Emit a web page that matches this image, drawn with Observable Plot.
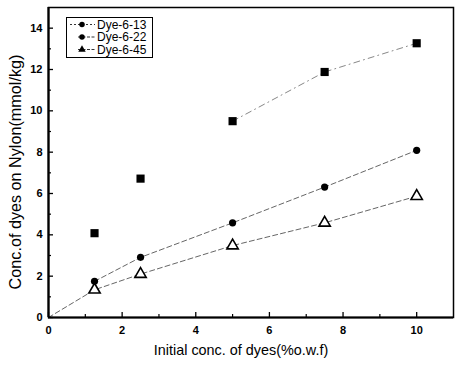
<!DOCTYPE html>
<html><head><meta charset="utf-8">
<script src="https://cdn.jsdelivr.net/npm/d3@7"></script>
<script src="https://cdn.jsdelivr.net/npm/@observablehq/plot@0.6"></script>
<style>
body{margin:0;background:#fff}
#wrap{position:relative;width:455px;height:367px;font-family:"Liberation Sans",Arial,sans-serif}
#legend{position:absolute;left:66px;top:17px;width:87px;height:41px;border:1.3px solid #000;background:#fff;box-sizing:border-box}
#legend svg{display:block;overflow:visible}
</style>
</head><body><div id="wrap"><div id="legend"></div></div>
<script>
const initialConc = [1.25, 2.5, 5, 7.5, 10];
const dye613 = [4.08, 6.72, 9.5, 11.88, 13.27];
const dye622 = [1.75, 2.91, 4.58, 6.31, 8.09];
const dye645 = [1.34, 2.1, 3.48, 4.58, 5.87];
const seriesNames = ["Dye-6-13", "Dye-6-22", "Dye-6-45"];
const seriesSymbols = ["circle", "circle", "triangle"];
const xTicks = [0, 2, 4, 6, 8, 10];
const xMinor = [1, 3, 5, 7, 9];
const yTicks = [0, 2, 4, 6, 8, 10, 12, 14];
const yMinor = [1, 3, 5, 7, 9, 11, 13];
const xLabel = "Initial conc. of dyes(%o.w.f)";
const yLabel = "Conc.of dyes on Nylon(mmol/kg)";

const mk = (vals) => initialConc.map((x, i) => ({x, y: vals[i]}));
const s613 = mk(dye613), s622 = mk(dye622), s645 = mk(dye645);
const origin = {x: 0, y: 0};

const chart = Plot.plot({
  width: 455, height: 367,
  marginLeft: 48, marginRight: 2, marginTop: 7, marginBottom: 50,
  style: {fontFamily: "'Liberation Sans', Arial, sans-serif", background: "#fff", color: "#000"},
  x: {domain: [0, 11]},
  y: {domain: [0, 15]},
  marks: [
    Plot.line(s613.slice(2), {x: "x", y: "y", stroke: "#888", strokeWidth: 1, strokeDasharray: "6,4,1,4"}),
    Plot.line(s622, {x: "x", y: "y", stroke: "#666", strokeWidth: 1, strokeDasharray: "5,3"}),
    Plot.line([origin, ...s645], {x: "x", y: "y", stroke: "#666", strokeWidth: 1, strokeDasharray: "5,3"}),
    Plot.dot(s613, {x: "x", y: "y", symbol: "square", r: 4.6, fill: "#000"}),
    Plot.dot(s622, {x: "x", y: "y", symbol: "circle", r: 3.6, fill: "#000"}),
    Plot.dot(s645, {x: "x", y: "y", symbol: "triangle", r: 4.2, fill: "#fff", stroke: "#000", strokeWidth: 1.6}),
    Plot.axisX({ticks: xTicks, tickSize: -5, tickFormat: () => "", label: null, strokeWidth: 1.3}),
    Plot.axisX({ticks: xMinor, tickSize: -3, tickFormat: () => "", label: null, strokeWidth: 1.2}),
    Plot.axisX({ticks: xTicks, tickSize: 0, tickPadding: 9, label: null, fontSize: 11, fontWeight: "bold"}),
    Plot.axisY({ticks: yTicks, tickSize: -5, tickFormat: () => "", label: null, strokeWidth: 1.3}),
    Plot.axisY({ticks: yMinor, tickSize: -3, tickFormat: () => "", label: null, strokeWidth: 1.2}),
    Plot.axisY({ticks: yTicks, tickSize: 0, tickPadding: 6, label: null, fontSize: 11, fontWeight: "bold"}),
    Plot.frame({stroke: "#000", strokeWidth: 1.5}),
    Plot.ruleX([0], {stroke: "#000", strokeWidth: 2.2}),
    Plot.ruleY([0], {stroke: "#000", strokeWidth: 2.2}),
    Plot.text([xLabel], {frameAnchor: "bottom", dx: -10, dy: 37, fontSize: 14.4, fill: "#000"}),
    Plot.text([yLabel], {frameAnchor: "left", textAnchor: "middle", dx: -32.5, dy: 9.5, rotate: -90, fontSize: 16.2, fill: "#000"})
  ]
});
document.getElementById("wrap").prepend(chart);

// legend
const lg = d3.select("#legend").append("svg").attr("width", 85).attr("height", 38);
seriesNames.forEach((name, i) => {
  const g = lg.append("g").attr("transform", `translate(0,${6.5 + i * 12.5})`);
  g.append("line").attr("x1", i === 0 ? 3 : 11).attr("x2", 28).attr("stroke", "#333").attr("stroke-width", 1)
    .attr("stroke-dasharray", i === 0 ? "2,2" : "3,1.5");
  g.append("path").attr("transform", "translate(15,0)")
    .attr("d", d3.symbol(seriesSymbols[i] === "triangle" ? d3.symbolTriangle : d3.symbolCircle, 24)())
    .attr("fill", "#000");
  g.append("text").attr("x", 30).attr("y", 0).attr("dy", "0.35em")
    .attr("font-size", 12).attr("font-family", "'Liberation Sans', Arial, sans-serif").text(name);
});
</script>
</body></html>
